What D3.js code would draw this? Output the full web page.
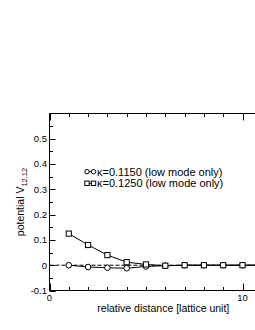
<!DOCTYPE html>
<html>
<head>
<meta charset="utf-8">
<script src="https://cdn.jsdelivr.net/npm/d3@7"></script>
<style>
  body { margin: 0; background: #fff; }
  svg { display: block; font-family: "Liberation Sans", Arial, sans-serif; }
</style>
</head>
<body>
<div id="chart-area"></div>
<script>
const distance = [1, 2, 3, 4, 5, 6, 7, 8, 9, 10, 11];
const kappa1150 = [0, -0.007, -0.01, -0.012, -0.005, -0.002, 0, 0, 0, 0, 0];
const kappa1250 = [0.125, 0.08, 0.04, 0.012, 0.003, -0.002, 0, 0, 0, 0, 0];
const yTickLabels = [-0.1, 0, 0.1, 0.2, 0.3, 0.4, 0.5];
const xTickLabels = [0, 10];
const legendLabels = ["\u03ba=0.1150 (low mode only)", "\u03ba=0.1250 (low mode only)"];

const w = 255;
const h = 330;
const padLeft = 49.5, padTop = 113.5, padBottom = 290.5;
const unit = 19.3;

const xScale = d3.scaleLinear().domain([0, 12]).range([padLeft, padLeft + 12 * unit]);
const yScale = d3.scaleLinear().domain([-0.1, 0.6]).range([padBottom, padTop]);

const svg = d3.select("#chart-area")
    .append("svg")
    .attr("width", w)
    .attr("height", h);

// frame
svg.append("rect")
    .attr("x", padLeft).attr("y", padTop)
    .attr("width", xScale(12) - padLeft).attr("height", padBottom - padTop)
    .attr("fill", "none").attr("stroke", "#000").attr("stroke-width", 1);

// y ticks (inward)
const yMinor = d3.range(-0.1, 0.6001, 0.05);
svg.selectAll(".ytick")
    .data(yMinor)
    .enter()
    .append("line")
    .attr("x1", padLeft)
    .attr("x2", (d, i) => padLeft + (i % 2 === 0 ? 6 : 3.5))
    .attr("y1", d => Math.round(yScale(d)) + 0.5)
    .attr("y2", d => Math.round(yScale(d)) + 0.5)
    .attr("stroke", "#000");

svg.selectAll(".ylabel")
    .data(yTickLabels)
    .enter()
    .append("text")
    .attr("x", padLeft - 2.5)
    .attr("y", d => yScale(d))
    .attr("dy", "0.35em")
    .attr("text-anchor", "end")
    .attr("font-size", "9.5px")
    .text(d => d === 0 ? "0" : d);

// x ticks, bottom and top
const xMinor = d3.range(0, 13, 1);
[padBottom, padTop].forEach((y0, k) => {
    svg.selectAll(".xtick" + k)
        .data(xMinor)
        .enter()
        .append("line")
        .attr("x1", d => Math.round(xScale(d)) + 0.5)
        .attr("x2", d => Math.round(xScale(d)) + 0.5)
        .attr("y1", y0)
        .attr("y2", d => y0 + (k === 0 ? -1 : 1) * (d % 10 === 0 ? 7 : 3.5))
        .attr("stroke", "#000");
});

svg.selectAll(".xlabel")
    .data(xTickLabels)
    .enter()
    .append("text")
    .attr("x", d => xScale(d))
    .attr("y", padBottom + 10)
    .attr("text-anchor", "middle")
    .attr("font-size", "9.5px")
    .text(d => d);

// zero line
svg.append("line")
    .attr("x1", padLeft).attr("x2", xScale(12))
    .attr("y1", yScale(0)).attr("y2", yScale(0))
    .attr("stroke", "#000").attr("stroke-dasharray", "4,2");

const line = d3.line()
    .x((d, i) => xScale(distance[i]))
    .y(d => yScale(d));

[kappa1150, kappa1250].forEach(series => {
    svg.append("path")
        .attr("d", line(series))
        .attr("fill", "none")
        .attr("stroke", "#000");
});

const drawMarker = (g, type, x, y, r) => {
    if (type === "circle") {
        g.append("circle").attr("cx", x).attr("cy", y).attr("r", r)
            .attr("fill", "#fff").attr("stroke", "#000");
    } else {
        g.append("rect").attr("x", x - r).attr("y", y - r)
            .attr("width", 2 * r).attr("height", 2 * r)
            .attr("fill", "#fff").attr("stroke", "#000");
    }
};

const marks = svg.append("g");
kappa1150.forEach((d, i) => drawMarker(marks, "circle", xScale(distance[i]), yScale(d), 2.8));
kappa1250.forEach((d, i) => drawMarker(marks, "square", xScale(distance[i]), yScale(d), 2.6));

// legend
const legend = svg.append("g");
legendLabels.forEach((label, i) => {
    const y0 = 171.7 + i * 11.6;
    legend.append("line").attr("x1", 87).attr("x2", 93.5)
        .attr("y1", y0).attr("y2", y0).attr("stroke", "#000");
    drawMarker(legend, i === 0 ? "circle" : "square", 87, y0, 2.2);
    drawMarker(legend, i === 0 ? "circle" : "square", 93.5, y0, 2.2);
    legend.append("text")
        .attr("x", 97).attr("y", y0)
        .attr("dy", "0.35em")
        .attr("font-size", "11px")
        .text(label);
});

// axis titles
svg.append("text")
    .attr("x", xScale(6) - 2)
    .attr("y", 312)
    .attr("text-anchor", "middle")
    .attr("font-size", "10.5px")
    .text("relative distance [lattice unit]");

const yTitle = svg.append("text")
    .attr("transform", "translate(24," + ((padTop + padBottom) / 2) + ") rotate(-90)")
    .attr("text-anchor", "middle")
    .attr("font-size", "10.5px");
yTitle.append("tspan").text("potential V");
yTitle.append("tspan").attr("font-size", "7.5px").attr("dy", "3").text("12,12");
</script>
</body>
</html>
